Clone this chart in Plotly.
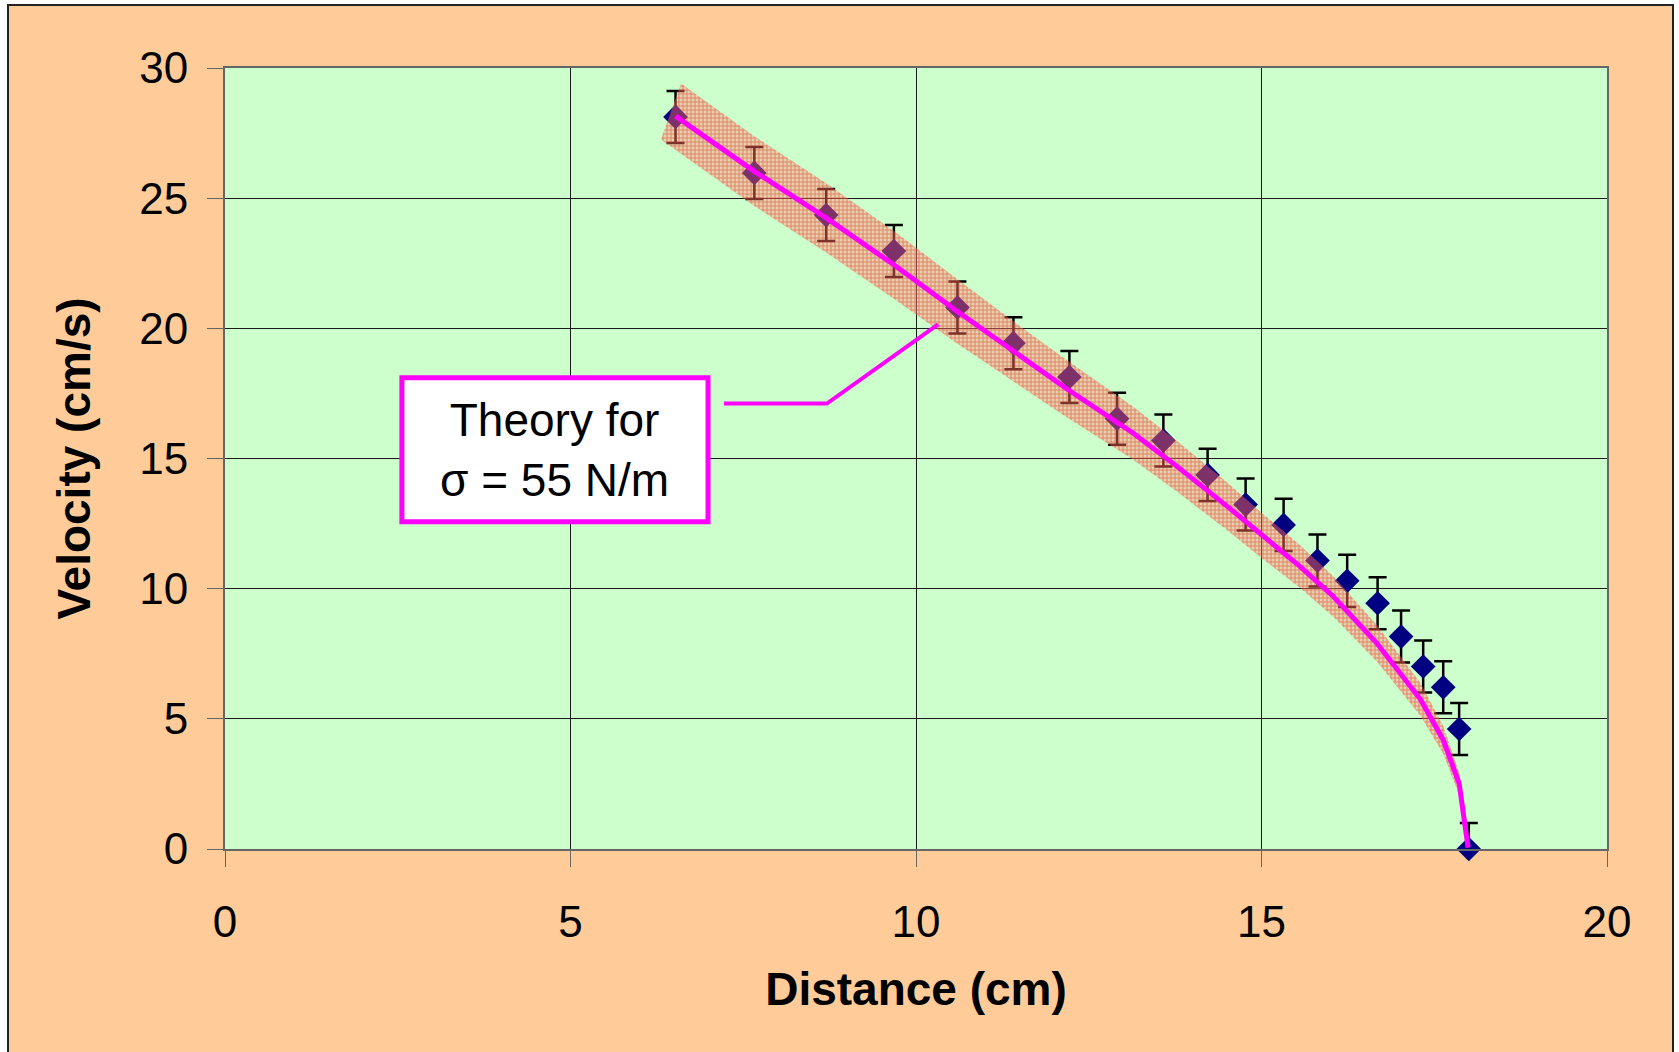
import plotly.graph_objects as go

# ---- data ----
distance = [6.52, 7.66, 8.70, 9.68, 10.60, 11.41, 12.22, 12.91, 13.58, 14.22,
            14.77, 15.32, 15.81, 16.24, 16.68, 17.02, 17.34, 17.63, 17.86, 18.00]
velocity = [28.12, 25.97, 24.35, 22.97, 20.80, 19.43, 18.13, 16.53, 15.69, 14.37,
            13.23, 12.45, 11.08, 10.30, 9.44, 8.16, 7.01, 6.21, 4.61, 0.0]
err_plus = [1.0] * 20
err_minus = [1.0] * 19 + [0.0]

theory_x = [6.52, 7.66, 8.70, 9.68, 10.60, 11.55, 12.18, 13.14, 13.80, 14.50,
            15.00, 15.56, 16.04, 16.67, 17.30, 17.63, 17.86, 17.99]
theory_v = [28.15, 26.03, 24.24, 22.44, 20.65, 18.85, 17.68, 15.98, 14.65, 13.17,
            12.05, 10.85, 9.70, 7.90, 5.75, 4.19, 2.52, 0.05]

band_upper_x = [6.60, 7.66, 8.70, 9.68, 10.60, 11.55, 12.18, 13.14, 13.80, 14.50,
                15.00, 15.56, 16.04, 16.67, 17.30, 17.63, 17.86, 17.95]
band_upper_v = [29.40, 27.38, 25.57, 23.74, 21.89, 19.99, 18.78, 17.00, 15.62, 14.09,
                12.92, 11.67, 10.48, 8.60, 6.38, 4.72, 2.95, 1.5]
band_lower_x = [6.31, 7.66, 8.70, 9.68, 10.60, 11.55, 12.18, 13.14, 13.80, 14.50,
                15.00, 15.56, 16.04, 16.67, 17.30, 17.63, 17.86, 17.93]
band_lower_v = [27.25, 24.70, 22.91, 21.14, 19.41, 17.71, 16.58, 14.96, 13.68, 12.25,
                11.18, 10.03, 8.92, 7.20, 5.12, 3.66, 2.09, 1.5]

x_ticks = [0, 5, 10, 15, 20]
y_ticks = [0, 5, 10, 15, 20, 25, 30]
annotation_text = "Theory for<br>σ = 55 N/m"

# ---- layout constants ----
W, H = 1679, 1052
ML, MR, MT, MB = 225, 72, 68, 203
FONT = "Liberation Sans, Arial, sans-serif"
ORANGE = "#FFCC99"
GREEN = "#CCFFCC"
MAGENTA = "#FF00FF"

fig = go.Figure()

# data with error bars
fig.add_trace(go.Scatter(
    x=distance, y=velocity, mode="markers",
    marker=dict(symbol="diamond", size=19, color="#000080"),
    error_y=dict(type="data", array=err_plus, arrayminus=err_minus, symmetric=False,
                 color="#000000", thickness=2.5, width=9),
    cliponaxis=False, showlegend=False, hoverinfo="skip"))

# hatched theory band
poly_x = band_upper_x + band_lower_x[::-1]
poly_v = band_upper_v + band_lower_v[::-1]
fig.add_trace(go.Scatter(
    x=poly_x, y=poly_v, mode="lines", fill="toself",
    line=dict(width=0, color="rgba(0,0,0,0)"),
    fillcolor="rgba(240,150,130,0.4)",
    fillpattern=dict(shape="+", fgcolor="rgba(255,0,0,0.8)",
                     bgcolor="rgba(245,150,130,0.4)", size=4, solidity=0.45),
    showlegend=False, hoverinfo="skip"))

# theory line
fig.add_trace(go.Scatter(
    x=theory_x, y=theory_v, mode="lines",
    line=dict(color=MAGENTA, width=5),
    showlegend=False, hoverinfo="skip"))

plot_w = W - ML - MR
plot_h = H - MT - MB

def px_x(px):
    return (px - ML) / plot_w

def px_y(py):
    return (H - MB - py) / plot_h

# white strips outside the orange panel, and the panel's thin border
for (a, b, c, d) in [(0, 8, 0, H + 20), (0, W, 0, 5), (1673, W + 20, 0, H + 20)]:
    fig.add_shape(type="rect", xref="paper", yref="paper", layer="below",
                  x0=px_x(a), x1=px_x(b), y0=px_y(d), y1=px_y(c),
                  fillcolor="white", line=dict(width=0))
fig.add_shape(type="rect", xref="paper", yref="paper", layer="below",
              x0=px_x(8), x1=px_x(1673), y0=px_y(H + 20), y1=px_y(5),
              fillcolor="rgba(0,0,0,0)", line=dict(color="#222222", width=2))

# annotation box + connector
box_x0, box_x1, box_y0, box_y1 = 2.56, 6.99, 12.57, 18.10
fig.add_shape(type="rect", xref="x", yref="y", layer="above",
              x0=box_x0, x1=box_x1, y0=box_y0, y1=box_y1,
              fillcolor="white", line=dict(color=MAGENTA, width=5))
conn = [(7.22, 17.11), (8.71, 17.11), (10.32, 20.15)]
fig.add_shape(type="path", xref="x", yref="y", layer="above",
              path="M {} {} L {} {} L {} {}".format(*[c for p in conn for c in p]),
              line=dict(color=MAGENTA, width=4))
fig.add_annotation(x=(box_x0 + box_x1) / 2, y=(box_y0 + box_y1) / 2,
                   xref="x", yref="y", text=annotation_text, showarrow=False,
                   font=dict(family=FONT, size=46, color="black"), align="center")

axis_common = dict(
    showgrid=True, gridcolor="#1a1a1a", gridwidth=1.3,
    showline=True, linecolor="#666666", linewidth=2, mirror=True,
    ticks="outside", ticklen=16, tickcolor="#666666", tickwidth=1.3,
    tickfont=dict(family=FONT, size=44, color="black"),
    zeroline=False,
)

fig.update_xaxes(range=[0, 20], tickvals=x_ticks, ticklabelstandoff=17,
                 title=dict(text="<b>Distance (cm)</b>", standoff=28,
                            font=dict(family=FONT, size=46, color="black")),
                 **axis_common)
fig.update_yaxes(range=[0, 30], tickvals=y_ticks, ticklabelstandoff=10,
                 title=dict(text="<b>Velocity (cm/s)</b>", standoff=34,
                            font=dict(family=FONT, size=46, color="black")),
                 **axis_common)

fig.update_layout(
    width=W, height=H,
    margin=dict(l=ML, r=MR, t=MT, b=MB),
    paper_bgcolor=ORANGE, plot_bgcolor=GREEN,
    font=dict(family=FONT),
    showlegend=False,
)

fig.write_html("out.html")
